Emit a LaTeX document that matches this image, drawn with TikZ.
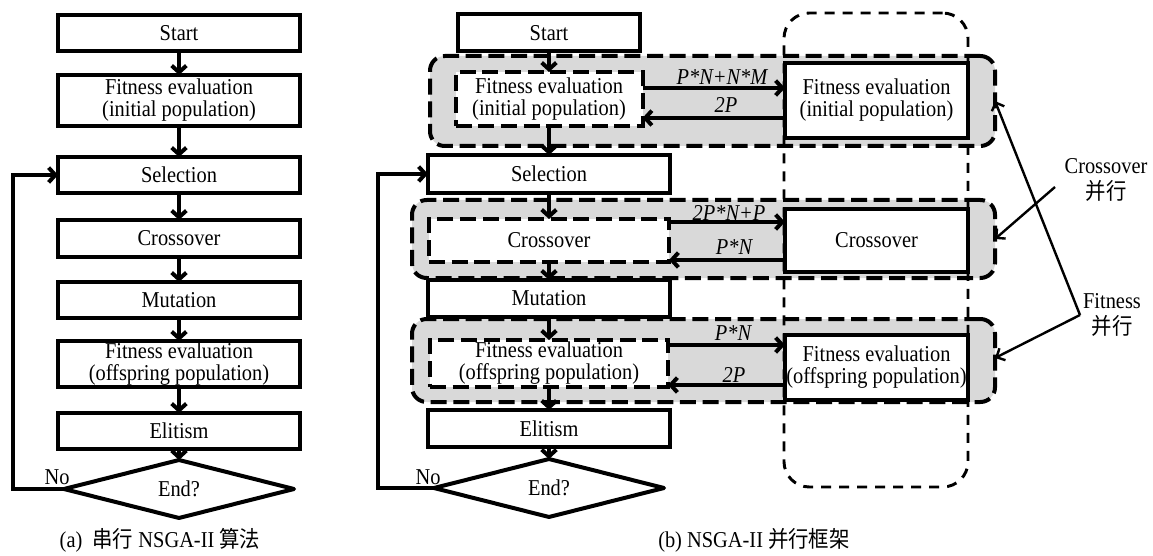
\documentclass[tikz,border=0pt]{standalone}
\usepackage{fontspec}
\setmainfont{Liberation Serif}[FakeStretch=0.9]
\newfontfamily\cjk{Noto Sans CJK SC}[FakeStretch=0.9]
\usetikzlibrary{arrows.meta,shapes.geometric}
\definecolor{grpfill}{RGB}{217,217,217}
\begin{document}
\begin{tikzpicture}[x=0.75pt,y=-0.75pt,
  every node/.style={inner sep=0pt, outer sep=0pt, align=center, font=\fontsize{17}{16.5}\selectfont},
  sz/.style 2 args={minimum width=#1*0.75pt, minimum height=#2*0.75pt},
  sbox/.style={draw, line width=3pt, fill=white},
  dbox/.style={draw, line width=3pt, fill=white, dash pattern=on 12pt off 5pt},
  grpbox/.style={draw, line width=3pt, fill=grpfill, dash pattern=on 12pt off 5pt, rounded corners=11pt},
  bigdash/.style={draw, line width=2.2pt, dash pattern=on 7.5pt off 6pt, rounded corners=19pt},
  dia/.style={draw, diamond, line width=3pt, line join=round, fill=white},
  arr/.style={line width=3pt, -{Straight Barb[length=5pt,width=11pt]}},
  thinarr/.style={line width=1.8pt, -{Straight Barb[length=5pt,width=10pt]}},
  lbl/.style={font=\fontsize{17}{16.5}\selectfont\itshape},
  side/.style={font=\fontsize{17}{19}\selectfont},
]
\useasboundingbox (0,0) rectangle (1153,556);

% ---------- (a) serial ----------
\node[sbox, sz={242}{36}] (aStart) at (179,33) {Start};
\node[sbox, sz={242}{51}] (aFit1) at (179,100.5) {Fitness evaluation\\(initial population)};
\node[sbox, sz={242}{36}] (aSel) at (179,175) {Selection};
\node[sbox, sz={242}{37}] (aCross) at (179,238.5) {Crossover};
\node[sbox, sz={242}{36}] (aMut) at (179,300) {Mutation};
\node[sbox, sz={242}{46}] (aFit2) at (179,364) {Fitness evaluation\\(offspring population)};
\node[sbox, sz={242}{36}] (aElit) at (179,431) {Elitism};
\node[dia, sz={230}{38}] (aEnd) at (179,489) {End?};
\coordinate (aLoop) at (13,489);

\draw[arr] (aStart.south) -- (aFit1.north);
\draw[arr] (aFit1.south) -- (aSel.north);
\draw[arr] (aSel.south) -- (aCross.north);
\draw[arr] (aCross.south) -- (aMut.north);
\draw[arr] (aMut.south) -- (aFit2.north);
\draw[arr] (aFit2.south) -- (aElit.north);
\draw[arr] (aElit.south) -- (aEnd.north);
\draw[arr] (aEnd.west) -- (aLoop) |- (aSel.west);
\node (aNo) at (57,477) {No};
\node (capA) at (160,540) {(a)\ \ {\cjk 串行} NSGA-II {\cjk 算法}};

% ---------- (b) parallel ----------
\node[grpbox, sz={565}{90}] (g1) at (712.5,101) {};
\node[grpbox, sz={583}{78}] (g2) at (703.5,239) {};
\node[grpbox, sz={583}{83}] (g3) at (703.5,360.5) {};
\node[bigdash, sz={184}{474}] (big) at (876,250) {};

\node[sbox, sz={182}{37}] (bStart) at (549,33) {Start};
\node[dbox, sz={187}{54}] (bFit1) at (549,99) {Fitness evaluation\\(initial population)};
\node[sbox, sz={242}{38}] (bSel) at (549,174) {Selection};
\node[dbox, sz={240}{43}] (bCross) at (549,240.5) {Crossover};
\node[sbox, sz={242}{37}] (bMut) at (549,298.5) {Mutation};
\node[dbox, sz={238}{47}] (bFit2) at (549,363.5) {Fitness evaluation\\(offspring population)};
\node[sbox, sz={242}{37}] (bElit) at (549,428.5) {Elitism};
\node[dia, sz={230}{40}] (bEnd) at (549,488) {End?};
\coordinate (bLoop) at (378,488);

\node[sbox, sz={183}{75}] (bR1) at (876.5,100.5) {Fitness evaluation\\(initial population)};
\node[sbox, sz={183}{63}] (bR2) at (876.5,240.5) {Crossover};
\node[sbox, sz={183}{65}] (bR3) at (876.5,367.5) {Fitness evaluation\\(offspring population)};

\draw[arr] (bStart.south) -- (bFit1.north);
\draw[arr] (bFit1.south) -- (bSel.north);
\draw[arr] (bSel.south) -- (bCross.north);
\draw[arr] (bCross.south) -- (bMut.north);
\draw[arr] (bMut.south) -- (bFit2.north);
\draw[arr] (bFit2.south) -- (bElit.north);
\draw[arr] (bElit.south) -- (bEnd.north);
\draw[arr] (bEnd.west) -- (bLoop) |- (bSel.west);
\node (bNo) at (428,477) {No};

\draw[arr] (bFit1.east |- 0,88) -- (bR1.west |- 0,88);
\draw[arr] (bR1.west |- 0,118) -- (bFit1.east |- 0,118);
\draw[arr] (bCross.east |- 0,222) -- (bR2.west |- 0,222);
\draw[arr] (bR2.west |- 0,260) -- (bCross.east |- 0,260);
\draw[arr] (bFit2.east |- 0,345) -- (bR3.west |- 0,345);
\draw[arr] (bR3.west |- 0,385) -- (bFit2.east |- 0,385);

\node[lbl] (l1) at (722,77) {P*N+N*M};
\node[lbl] (l2) at (726,105) {2P};
\node[lbl] (l3) at (729,213) {2P*N+P};
\node[lbl] (l4) at (734,247) {P*N};
\node[lbl] (l5) at (733,333) {P*N};
\node[lbl] (l6) at (734,375) {2P};

\node[side] (cs) at (1106,180) {Crossover\\{\cjk 并行}};
\node[side] (fs) at (1112,315) {Fitness\\{\cjk 并行}};
\coordinate (cj) at (1055,187);
\coordinate (fj) at (1080,315);
\draw[thinarr] (cj) -- (g2.east);
\draw[thinarr] (fj) -- (g3.east |- 0,358);
\draw[thinarr] (fj) -- (g1.east);

\node (capB) at (754,540) {(b) NSGA-II {\cjk 并行框架}};
\end{tikzpicture}
\end{document}
